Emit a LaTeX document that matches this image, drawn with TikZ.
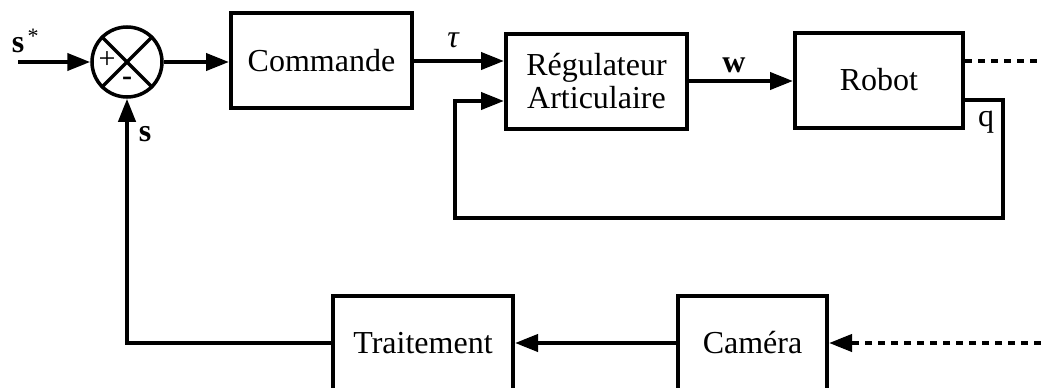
\documentclass[tikz,border=0pt]{standalone}
\usepackage{fontspec}
\setmainfont{Liberation Serif}
\usetikzlibrary{arrows.meta}
\tikzset{
  blk/.style={draw, line width=4pt, rectangle, minimum height=95pt, align=center,
    font=\fontsize{32}{33}\selectfont, inner sep=0pt},
  ln/.style={line width=4pt},
  arr/.style={line width=4pt, -{Triangle[length=23pt,width=17pt]}},
  dotln/.style={line width=4pt, dash pattern=on 7pt off 6pt},
  lbl/.style={font=\fontsize{32}{33}\selectfont, inner sep=0pt},
}
\begin{document}
\begin{tikzpicture}[x=1pt,y=-1pt]
\useasboundingbox (0,0) rectangle (1041,388);
% blocks
\node[blk, minimum width=181pt] (com) at (321.5,60.5) {Commande};
\node[blk, minimum width=181pt] (reg) at (596.5,81) {Régulateur\\Articulaire};
\node[blk, minimum width=168pt] (rob) at (879,80) {Robot};
\node[blk, minimum width=180pt] (tra) at (423,343) {Traitement};
\node[blk, minimum width=149pt] (cam) at (752.5,343) {Caméra};
% summing junction
\node[draw, circle, line width=3.5pt, minimum size=70pt, inner sep=0pt] (sum) at (127,62) {};
\draw[line width=3.5pt] (sum.north west) -- (sum.south east);
\draw[line width=3.5pt] (sum.north east) -- (sum.south west);
\node[lbl, font=\fontsize{30}{30}\selectfont] (plus) at (107,60) {+};
\node[lbl, font=\fontsize{30}{30}\selectfont\bfseries] (minus) at (127,81) {-};
% coordinates
\coordinate (in) at (18,62);
\coordinate (dotend) at (1041,61);
\coordinate (camin) at (1041,343);
\coordinate (q1) at (1003,100);
\coordinate (q2) at (1003,218);
\coordinate (q3) at (455,218);
\coordinate (q4) at (455,101);
\coordinate (b1) at (127,343);
% connectors
\draw[arr] (in) -- (sum.west);
\draw[arr] (sum.east) -- (com.west |- sum.east);
\draw[arr] (com.east |- 0,61) -- (reg.west |- 0,61);
\draw[arr] (reg.east |- 0,81) -- (rob.west |- 0,81);
\draw[dotln] (rob.east |- dotend) -- (dotend);
\draw[arr, dash pattern=on 7pt off 6pt] (camin) -- (cam.east);
\draw[arr] (rob.east |- q1) -- (q1) -- (q2) -- (q3) -- (q4) -- (reg.west |- q4);
\draw[arr] (cam.west) -- (tra.east);
\draw[arr] (tra.west) -- (b1) -- (sum.south);
% labels
\node[lbl, anchor=base] (sstar) at (18,52) {\textbf{s}};
\node[lbl, font=\fontsize{22}{22}\selectfont] (star) at (33,36) {*};
\node[lbl, anchor=base] (slbl) at (145,141) {\textbf{s}};
\node[lbl, anchor=base] (tau) at (453,47) {\itshape τ};
\node[lbl, anchor=base] (wlbl) at (734,72) {\textbf{w}};
\node[lbl, anchor=base] (qlbl) at (986,126) {q};
\end{tikzpicture}
\end{document}
